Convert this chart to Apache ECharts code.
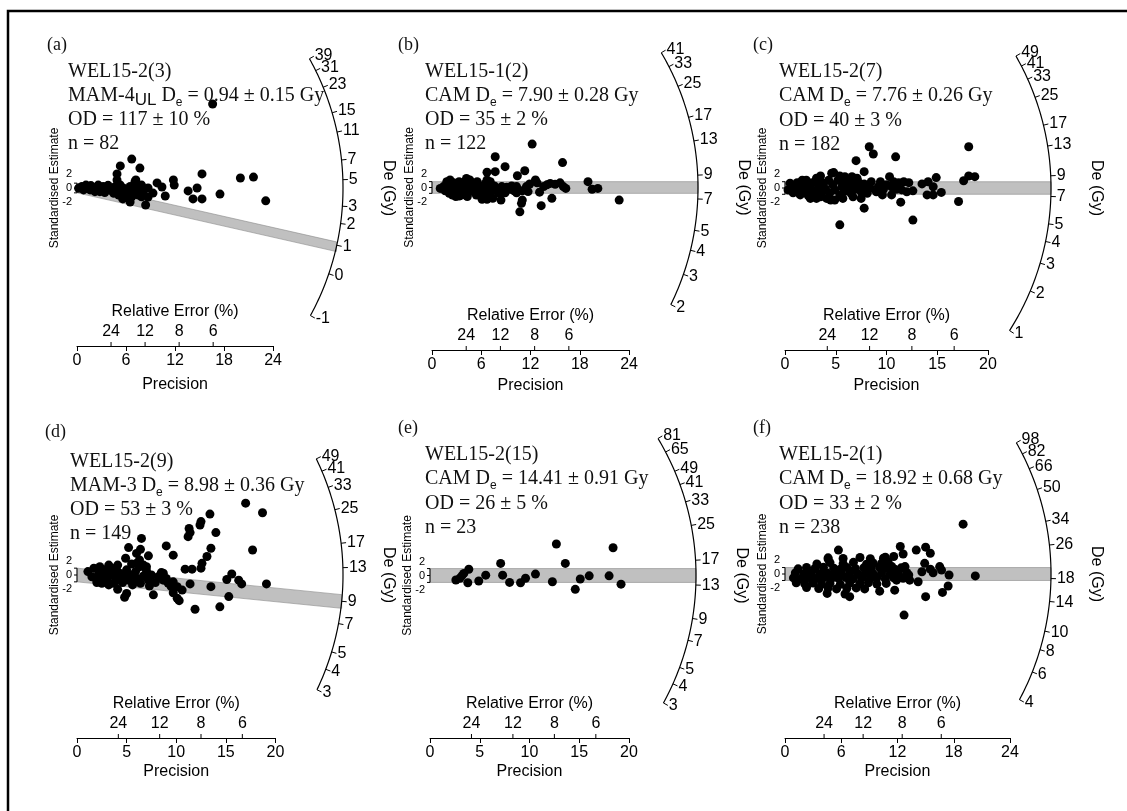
<!DOCTYPE html>
<html><head><meta charset="utf-8">
<script src="https://cdn.jsdelivr.net/npm/echarts@6/dist/echarts.min.js"></script>
<style>html,body{margin:0;padding:0;background:#fff}#c{width:1127px;height:811px}</style>
</head><body><div id="c"></div>
<script>
// ---------------- DATA (precision, standardised estimate) ----------------
const ptsA = [[16.6,34.6],[6.7,11.9],[5.3,9.1],[4.9,5.8],[7.7,8.2],[15.3,5.8],[20.0,4.1],[21.6,4.5],[11.8,3.3],[11.9,1.2],[9.8,2.1],[10.4,0.4],[8.7,0.0],[7.2,3.3],[13.6,-1.2],[14.7,0.0],[17.5,-2.5],[14.2,-4.5],[15.3,-4.5],[23.1,-5.3],[10.8,-3.3],[8.4,-7.0],[5.6,-4.5],[6.5,-5.8],[8.7,-3.7],[9.3,-2.1],
[0.6,0.6],[1.3,-0.1],[1.7,1.0],[2.4,0.3],[2.8,-1.5],[3.2,0.6],[3.6,-0.8],[4.0,-0.1],[4.5,-2.2],[4.7,0.6],[4.9,-0.8],[5.3,1.2],[5.7,-0.1],[6.1,-1.1],[6.5,0.6],[6.9,-2.2],[7.1,2.6],[7.3,-0.1],[7.5,-2.9],[7.7,-0.8],[8.1,-1.5],[0.8,-0.8],[1.6,-0.8],[2.2,-1.5],[3.0,-0.6],[3.8,1.1],[5.1,-2.9],[5.9,-2.9],[6.7,-3.6],[7.3,1.2],[0.2,-0.1],[1.1,1.2],[2.0,-0.1],[2.6,1.2],[3.4,-1.9],[4.2,-1.1],[5.5,-1.5],[6.3,-1.5],[7.9,-3.6],[4.9,3.3],[6.9,-0.1],[7.9,1.2]];
const ptsB = [[12.2,14.8],[7.7,10.5],[15.9,8.5],[8.9,7.1],[6.7,5.2],[7.7,5.4],[11.3,5.7],[10.4,4.0],[19.0,2.0],[19.5,-0.6],[20.2,-0.3],[22.8,-4.3],[14.6,-3.7],[13.3,-6.2],[10.7,-8.3],[11.0,-4.3],[10.9,-5.4],[13.1,-1.6],[12.6,2.6],[16.0,0.3],[15.6,1.6],[14.4,1.4],[14.0,0.9],[15.0,1.1],[16.3,-0.3],[11.5,0.3],[11.9,1.2],[12.8,1.6],[6.1,-4.0],[6.7,-4.0],[7.4,-3.7],[8.4,-4.3],[6.7,2.6],[10.3,0.3],[9.5,-0.6],[8.7,-0.6],[7.9,-0.3],[8.1,-2.0],[7.1,-1.8],[5.9,-1.8],[5.5,2.0],[4.2,3.1],[10.3,-1.8],[5.9,0.3],[4.6,1.4],[5.0,-1.4],[3.6,-2.6],[2.9,-3.1],
[1.0,-0.3],[1.4,0.3],[1.6,-1.1],[2.0,0.9],[2.1,-2.0],[2.4,-0.3],[2.6,1.6],[2.8,-1.4],[3.1,0.3],[3.3,2.0],[3.5,-0.8],[3.8,0.9],[4.0,-1.8],[4.3,-0.3],[4.6,2.6],[4.8,-0.8],[5.1,0.5],[5.4,-2.6],[5.6,-0.3],[6.3,-0.6],[6.5,1.4],[6.9,0.3],[7.1,2.0],[7.3,-0.8],[7.6,0.5],[8.5,0.3],[9.1,0.1],[9.7,0.5],[10.0,-1.1],[3.3,-2.9],[2.2,2.6],[1.8,2.0],[4.0,2.0],[2.5,-2.6],[4.3,-3.1],[6.6,-2.6],[8.9,-1.8],[11.0,-1.1],[11.7,-1.4],[13.6,0.3]];
const ptsC = [[18.1,13.1],[8.3,13.1],[8.7,10.8],[10.9,9.9],[7.0,8.7],[7.8,5.2],[4.8,4.9],[10.3,3.6],[14.9,3.3],[18.1,3.8],[18.7,3.6],[17.6,2.3],[14.1,2.0],[13.5,1.3],[14.6,0.4],[15.4,-1.4],[14.0,-2.2],[14.6,-2.2],[17.1,-4.3],[11.4,-4.5],[7.8,-6.4],[7.5,-3.3],[12.6,-10.2],[5.4,-11.7],[12.6,-0.9],[12.2,1.7],[11.7,2.0],[11.2,1.7],[11.0,-0.4],[12.0,-1.2],[10.5,-2.2],[9.6,-2.2],[10.0,1.0],[9.0,-1.2],[8.5,2.0],[8.4,-0.1],[8.1,-1.7],[6.7,-2.8],[5.7,-3.3],[4.5,-3.8],[3.5,-2.8],[2.5,-3.3],[7.1,3.1],[6.2,2.0],[7.4,0.4],
[0.3,-0.6],[0.7,0.4],[0.8,-1.5],[1.2,1.7],[1.3,-0.4],[1.5,-2.2],[1.8,1.0],[2.0,-0.9],[2.1,2.5],[2.3,-2.5],[2.5,0.4],[2.7,1.7],[2.9,-1.2],[3.1,3.1],[3.3,0.2],[3.5,3.8],[3.6,-1.5],[3.8,1.5],[4.0,-0.4],[4.3,2.5],[4.4,-1.7],[4.7,1.0],[4.9,-0.6],[5.2,2.5],[5.4,-2.2],[5.6,0.4],[5.8,2.0],[6.0,-0.9],[6.2,0.4],[6.5,-1.7],[6.7,1.7],[6.9,-0.4],[7.2,2.0],[7.5,-1.2],[7.8,1.3],[8.1,0.4],[2.1,-0.9],[3.1,-3.3],[4.1,-3.3],[4.9,-3.8],[4.6,4.7],[3.4,2.0],[1.7,2.5],[0.5,1.5],[5.4,3.8],[5.9,3.6],[6.6,3.6],[9.2,0.4],[9.7,-0.4],[10.5,0.4],[11.5,-0.6],[10.7,2.0],[9.4,2.0]];
const ptsD = [[17.0,21.0],[18.7,18.2],[13.4,17.8],[12.5,15.6],[12.4,14.6],[11.3,13.6],[11.4,12.4],[11.2,11.2],[14.0,12.4],[6.5,10.7],[9.0,8.5],[17.7,7.3],[13.5,7.8],[5.2,8.0],[6.0,6.3],[7.2,5.6],[9.7,5.8],[6.3,4.4],[4.9,4.9],[13.1,5.4],[12.6,3.4],[12.5,2.0],[10.9,1.7],[11.6,1.7],[15.6,0.3],[15.1,-1.3],[16.3,-1.5],[16.6,-2.6],[19.1,-2.6],[13.5,-3.4],[11.4,-2.6],[15.3,-6.3],[14.4,-9.3],[11.9,-10.0],[10.3,-7.5],[10.1,-6.8],[7.7,-5.8],[4.8,-6.5],[5.0,-5.4],[4.1,-4.2],[8.7,-1.5],[9.5,-3.4],[9.7,-5.2],[8.7,0.5],
[1.1,1.0],[1.5,-0.5],[1.7,2.0],[2.0,-1.5],[2.2,0.5],[2.3,2.4],[2.5,-2.4],[2.7,-0.3],[2.8,1.5],[3.0,-1.5],[3.2,2.9],[3.3,0.0],[3.5,2.0],[3.7,-2.4],[3.8,-0.5],[4.0,1.3],[4.2,-1.5],[4.3,0.5],[4.6,-2.2],[4.7,-0.5],[5.0,1.5],[5.2,-1.5],[5.4,0.0],[5.6,-2.9],[5.9,1.0],[6.0,-1.0],[6.3,2.4],[6.4,-2.4],[6.7,-0.3],[7.0,1.3],[7.2,-1.5],[7.5,0.0],[7.9,-2.2],[8.2,-0.5],[8.5,0.7],[9.0,-1.0],[9.2,-2.4],[9.7,-2.0],[10.1,-3.4],[10.6,-4.4],[5.5,3.2],[6.7,2.9],[6.0,3.4],[2.3,-1.5],[4.1,2.9],[7.3,-3.2],[2.0,-2.2],[3.2,-2.9],[7.0,2.4],[6.4,7.5]];
const ptsE = [[2.6,-1.3],[3.0,-0.8],[3.4,0.6],[3.9,1.8],[3.8,-2.1],[4.9,-1.6],[5.6,0.1],[7.1,3.5],[7.3,0.1],[8.0,-2.0],[9.1,-2.1],[9.6,-0.8],[10.6,0.4],[12.3,-1.8],[12.7,9.1],[13.6,3.5],[14.6,-4.0],[15.1,-1.0],[16.0,-0.1],[18.0,-0.1],[18.4,8.0],[19.2,-2.5],[3.2,-0.1]];
const ptsF = [[19.0,15.4],[5.7,7.4],[12.3,8.5],[12.6,6.2],[14.0,7.4],[15.0,8.3],[15.5,6.4],[14.9,3.3],[15.5,1.5],[15.8,0.4],[16.5,2.3],[16.7,1.2],[14.6,0.7],[17.5,-0.3],[20.3,-0.6],[14.2,-2.4],[17.4,-3.7],[16.8,-5.7],[15.0,-7.0],[12.7,-12.7],[6.9,-7.0],[6.4,-6.2],[4.5,-6.0],[11.9,-1.9],[10.1,-5.3],[11.7,-5.0],[11.6,5.4],[10.7,5.2],[11.4,2.3],[12.8,2.3],[13.2,-0.3],[13.3,-1.9],[4.6,4.6],
[3.4,3.1],[4.8,3.5],[6.2,3.2],[7.3,3.6],[8.7,3.0],[9.4,3.4],[10.3,3.3],[11.0,3.7],
[1.4,1.6],[2.3,2.0],[3.2,1.7],[4.1,2.1],[5.2,1.8],[5.9,1.5],[6.6,2.0],[7.5,1.7],[8.4,1.9],[9.2,1.6],[10.1,2.0],[10.8,1.8],[11.7,1.5],[12.4,1.9],
[1.1,0.3],[2.0,0.0],[2.8,0.4],[3.7,0.1],[4.5,0.3],[5.3,-0.1],[6.0,0.5],[6.9,0.2],[7.8,0.0],[8.6,0.4],[9.4,0.1],[10.3,0.3],[11.2,-0.1],[12.1,0.2],[13.0,0.4],
[0.9,-1.2],[1.7,-1.5],[2.5,-1.1],[3.3,-1.4],[4.1,-1.2],[4.9,-1.6],[5.7,-1.3],[6.5,-1.1],[7.3,-1.5],[8.2,-1.2],[9.1,-1.4],[9.8,-1.1],[10.7,-1.5],[11.6,-1.2],[12.6,-1.3],
[1.2,-2.7],[2.1,-3.0],[3.0,-2.8],[3.9,-3.1],[4.8,-2.9],[5.9,-3.2],[6.9,-2.8],[8.0,-3.0],[8.9,-2.7],[9.8,-3.1],[10.8,-2.9],
[2.3,-4.2],[3.6,-4.5],[4.6,-4.3],[5.5,-4.6],[6.6,-4.4],[7.6,-4.3],[8.5,-4.6],
[4.6,5.0],[6.2,4.8],[8.0,5.1],[9.1,4.7],[10.5,4.9]];

// De (Gy) arc-axis tick labels
const arcLabelsA = [39,31,23,15,11,7,5,3,2,1,0,-1];
const arcLabelsB = [41,33,25,17,13,9,7,5,4,3,2];
const arcLabelsC = [49,41,33,25,17,13,9,7,5,4,3,2,1];
const arcLabelsD = [49,41,33,25,17,13,9,7,5,4,3];
const arcLabelsE = [81,65,49,41,33,25,17,13,9,7,5,4,3];
const arcLabelsF = [98,82,66,50,34,26,18,14,10,8,6,4];
// reference (centre of radial axis) and shaded-band De values, log offset
const refDe  = [4.3, 7.90, 7.76, 12.0, 14.41, 18.92];
const bandDe = [0.94, 7.90, 7.76, 8.98, 14.41, 18.92];
const logOffset = [2, 0, 0, 0, 0, 0];
const relErrTicks = [24, 12, 8, 6];
const precisionMax = [24, 24, 20, 20, 20, 24];
const precisionStep = [6, 6, 5, 5, 5, 6];

// texts
const panelTags = ['(a)','(b)','(c)','(d)','(e)','(f)'];
const sampleNames = ['WEL15-2(3)','WEL15-1(2)','WEL15-2(7)','WEL15-2(9)','WEL15-2(15)','WEL15-2(1)'];
const ageModels = ['MAM-4','CAM','CAM','MAM-3','CAM','CAM'];
const ageModelSub = ['UL','','','','',''];
const deValues = ['0.94 ± 0.15','7.90 ± 0.28','7.76 ± 0.26','8.98 ± 0.36','14.41 ± 0.91','18.92 ± 0.68'];
const odValues = ['117 ± 10','35 ± 2','40 ± 3','53 ± 3','26 ± 5','33 ± 2'];
const nValues = [82, 122, 182, 149, 23, 238];

// ---------------- LAYOUT ----------------
const SANS = 'Liberation Sans, Arial, sans-serif';
const SERIF = 'Liberation Serif, Times New Roman, serif';
const ARC_R = 266;
const layout = [
  {x0:77,  y0:188,   px:8.17,  axisY:346, k:0.297, tx:68,  lx:47,  ty:[72,96,120,144], ly:45,  gap:31},
  {x0:432, y0:187.5, px:8.21,  axisY:350, k:0.357, tx:425, lx:398, ty:[72,96,120,144], ly:45,  gap:28},
  {x0:785, y0:188,   px:10.15, axisY:350, k:0.31,  tx:779, lx:753, ty:[72,96,121,145], ly:45,  gap:28},
  {x0:77,  y0:575,   px:9.92,  axisY:738, k:0.345, tx:70,  lx:45,  ty:[462,486,510,534], ly:432, gap:26},
  {x0:430, y0:575.5, px:9.95,  axisY:738, k:0.348, tx:425, lx:398, ty:[455,479,504,528], ly:428, gap:26},
  {x0:785, y0:574,   px:9.375, axisY:738, k:0.345, tx:779, lx:753, ty:[455,479,504,528], ly:428, gap:26}
];
const allPts = [ptsA, ptsB, ptsC, ptsD, ptsE, ptsF];
const allArc = [arcLabelsA, arcLabelsB, arcLabelsC, arcLabelsD, arcLabelsE, arcLabelsF];

const grids = [], xAxes = [], yAxes = [], series = [], graphics = [];

function arcDir(api, o, d) {
  const p = api.coord([1, d]);
  const dx = p[0] - o[0], dy = p[1] - o[1];
  const L = Math.hypot(dx, dy);
  return [dx / L, dy / L];
}

layout.forEach((P, i) => {
  const half = P.axisY - P.y0;
  const py = P.k * P.px;
  const yh = half / py;
  grids.push({left: P.x0, top: P.y0 - half, width: precisionMax[i] * P.px, height: 2 * half});
  xAxes.push({gridIndex: i, type: 'value', min: 0, max: precisionMax[i], interval: precisionStep[i], position: 'bottom',
    axisLine: {show: true, onZero: false, lineStyle: {color: '#000', width: 1}},
    axisTick: {show: true, length: 5, lineStyle: {color: '#000'}},
    axisLabel: {color: '#000', fontSize: 16, fontFamily: SANS, margin: 7},
    splitLine: {show: false},
    name: 'Precision', nameLocation: 'middle', nameGap: P.gap,
    nameTextStyle: {color: '#000', fontSize: 16, fontFamily: SANS}});
  yAxes.push({gridIndex: i, type: 'value', min: -yh, max: yh, show: false});

  const off = logOffset[i];
  const lnRef = Math.log(refDe[i] + off);
  const labels = allArc[i];

  // shaded band (central value ± 2)
  series.push({type: 'custom', coordinateSystem: 'cartesian2d', xAxisIndex: i, yAxisIndex: i, z: 1, clip: false, silent: true,
    data: [[0, 0]],
    renderItem: function (params, api) {
      const o = api.coord([0, 0]);
      const s = Math.log(bandDe[i] + off) - lnRef;
      const p1 = api.coord([1, s]);
      const xe = ARC_R / Math.hypot(p1[0] - o[0], p1[1] - o[1]);
      const A = api.coord([0, 2]), B = api.coord([xe, s * xe + 2]), C = api.coord([xe, s * xe - 2]), D = api.coord([0, -2]);
      return {type: 'polygon', shape: {points: [A, B, C, D]}, style: {fill: '#c0c0c0', stroke: '#8a8a8a', lineWidth: 0.6}};
    }});

  // points
  series.push({type: 'scatter', xAxisIndex: i, yAxisIndex: i, data: allPts[i], symbolSize: 9, z: 3, silent: true,
    itemStyle: {color: '#000', opacity: 1}});

  // decorations: arc axis, relative error axis, std. estimate bracket, labels
  series.push({type: 'custom', coordinateSystem: 'cartesian2d', xAxisIndex: i, yAxisIndex: i, z: 2, clip: false, silent: true,
    data: [[0, 0]],
    renderItem: function (params, api) {
      const o = api.coord([0, 0]);
      const els = [];
      const angs = labels.map(v => { const u = arcDir(api, o, Math.log(v + off) - lnRef); return Math.atan2(-u[1], u[0]); });
      const aMax = Math.max.apply(null, angs), aMin = Math.min.apply(null, angs);
      const pts = [];
      for (let k = 0; k <= 90; k++) {
        const a = aMin + (aMax - aMin) * k / 90;
        pts.push([o[0] + ARC_R * Math.cos(a), o[1] - ARC_R * Math.sin(a)]);
      }
      els.push({type: 'polyline', shape: {points: pts}, style: {stroke: '#000', lineWidth: 1.2, fill: 'none'}});
      labels.forEach((v, k) => {
        const c = Math.cos(angs[k]), s = Math.sin(angs[k]);
        els.push({type: 'line', shape: {x1: o[0] + ARC_R * c, y1: o[1] - ARC_R * s, x2: o[0] + (ARC_R + 5) * c, y2: o[1] - (ARC_R + 5) * s},
          style: {stroke: '#000', lineWidth: 1}});
        els.push({type: 'text', style: {text: String(v), x: o[0] + (ARC_R + 6) * c, y: o[1] - (ARC_R + 6) * s,
          align: 'left', verticalAlign: 'middle', fontSize: 16, fontFamily: SANS, fill: '#000'}});
      });
      // De (Gy) label
      els.push({type: 'text', x: o[0] + 311, y: o[1], rotation: -Math.PI / 2,
        style: {text: 'De (Gy)', align: 'center', verticalAlign: 'middle', fontSize: 16, fontFamily: SANS, fill: '#000'}});
      // relative error axis
      const yb = api.coord([0, -yh])[1];
      relErrTicks.forEach(r => {
        const x = api.coord([100 / r, -yh])[0];
        els.push({type: 'line', shape: {x1: x, y1: yb, x2: x, y2: yb - 4}, style: {stroke: '#000', lineWidth: 1}});
        els.push({type: 'text', style: {text: String(r), x: x, y: yb - 14, align: 'center', verticalAlign: 'middle',
          fontSize: 16, fontFamily: SANS, fill: '#000'}});
      });
      const xm = api.coord([precisionMax[i] / 2, -yh])[0];
      els.push({type: 'text', style: {text: 'Relative Error (%)', x: xm, y: yb - 34, align: 'center', verticalAlign: 'middle',
        fontSize: 16, fontFamily: SANS, fill: '#000'}});
      // standardised estimate bracket
      const t = api.coord([0, 2])[1], b = api.coord([0, -2])[1];
      els.push({type: 'polyline', shape: {points: [[o[0] - 3, t], [o[0], t], [o[0], b], [o[0] - 3, b]]},
        style: {stroke: '#000', lineWidth: 1, fill: 'none'}});
      els.push({type: 'line', shape: {x1: o[0] - 3, y1: o[1], x2: o[0], y2: o[1]}, style: {stroke: '#000', lineWidth: 1}});
      [['2', -14], ['0', 0], ['-2', 14]].forEach(d => {
        els.push({type: 'text', style: {text: d[0], x: o[0] - 5, y: o[1] + d[1], align: 'right', verticalAlign: 'middle',
          fontSize: 11, fontFamily: SANS, fill: '#000'}});
      });
      els.push({type: 'text', x: o[0] - 22, y: o[1], rotation: Math.PI / 2,
        style: {text: 'Standardised Estimate', align: 'center', verticalAlign: 'middle', fontSize: 12, fontFamily: SANS, fill: '#000'}});
      return {type: 'group', children: els};
    }});

  // annotation text
  const rich = {
    n: {fontFamily: SERIF, fontSize: 20, fill: '#111', lineHeight: 26, verticalAlign: 'middle'},
    s: {fontFamily: SANS, fontSize: 12, fill: '#111', lineHeight: 12, verticalAlign: 'bottom'},
    u: {fontFamily: SANS, fontSize: 17, fill: '#111', lineHeight: 17, verticalAlign: 'bottom'}
  };
  graphics.push({type: 'text', x: P.lx, y: P.ly, style: {text: panelTags[i], fontFamily: SERIF, fontSize: 18, fill: '#111', verticalAlign: 'middle'}});
  graphics.push({type: 'text', x: P.tx, y: P.ty[0], style: {text: sampleNames[i], fontFamily: SERIF, fontSize: 20, fill: '#111', verticalAlign: 'middle'}});
  const dl = '{n|' + ageModels[i] + '}' + (ageModelSub[i] ? '{u|' + ageModelSub[i] + '}' : '') +
             '{n| D}{s|e}{n| = ' + deValues[i] + ' Gy}';
  graphics.push({type: 'text', x: P.tx, y: P.ty[1], style: {text: dl, rich: rich, verticalAlign: 'middle'}});
  graphics.push({type: 'text', x: P.tx, y: P.ty[2], style: {text: 'OD = ' + odValues[i] + ' %', fontFamily: SERIF, fontSize: 20, fill: '#111', verticalAlign: 'middle'}});
  graphics.push({type: 'text', x: P.tx, y: P.ty[3], style: {text: 'n = ' + nValues[i], fontFamily: SERIF, fontSize: 20, fill: '#111', verticalAlign: 'middle'}});
});

graphics.push({type: 'polyline', shape: {points: [[8, 811], [8, 11], [1127, 11]]}, style: {stroke: '#000', lineWidth: 2.5, fill: 'none'}});

const chart = echarts.init(document.getElementById('c'), null, {renderer: 'canvas'});
chart.setOption({
  animation: false,
  backgroundColor: '#fff',
  grid: grids, xAxis: xAxes, yAxis: yAxes, series: series, graphic: graphics
});
</script>
</body></html>
